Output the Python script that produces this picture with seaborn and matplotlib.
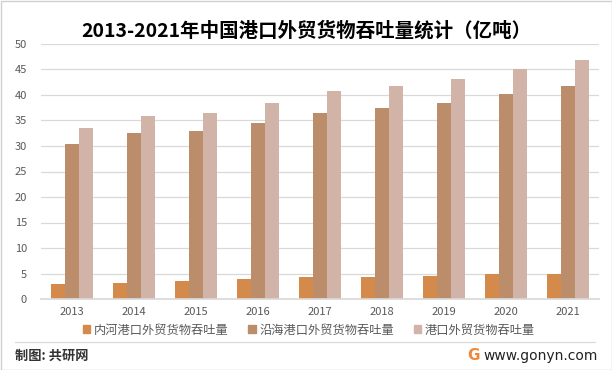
import matplotlib
matplotlib.use("Agg")
import matplotlib.pyplot as plt
import seaborn as sns
import pandas as pd
from matplotlib.patches import Rectangle
from matplotlib.lines import Line2D

years = ["2013", "2014", "2015", "2016", "2017", "2018", "2019", "2020", "2021"]
inland = [2.9, 3.1, 3.6, 4.0, 4.3, 4.3, 4.5, 4.9, 4.9]
coastal = [30.4, 32.6, 33.0, 34.6, 36.5, 37.5, 38.5, 40.1, 41.8]
total = [33.6, 35.9, 36.5, 38.5, 40.8, 41.8, 43.2, 45.0, 46.9]
series_names = ["内河港口外贸货物吞吐量", "沿海港口外贸货物吞吐量", "港口外贸货物吞吐量"]
colors = ["#D48A4B", "#BB8D6B", "#D2B3A8"]
title = "2013-2021年中国港口外贸货物吞吐量统计（亿吨）"

sns.set_theme(style="white")
plt.rcParams['font.family'] = ['Noto Sans CJK SC', 'DejaVu Sans']

rows = []
for name, vals in zip(series_names, [inland, coastal, total]):
    for y, v in zip(years, vals):
        rows.append({"year": y, "series": name, "value": v})
df = pd.DataFrame(rows)

fig = plt.figure(figsize=(6.12, 3.70), dpi=100)
ax = fig.add_axes([41/612, 1-299/370, 558/612, 255/370])

sns.barplot(data=df, x="year", y="value", hue="series", order=years,
            hue_order=series_names, palette=colors, width=0.67, gap=0,
            saturation=1, linewidth=0, ax=ax, legend=False)

ax.set_ylim(0, 50)
ax.set_yticks(range(0, 51, 5))
ax.set_xlim(-0.5, len(years) - 0.5)
ax.yaxis.grid(True, color="#D9D9D9", linewidth=0.9)
ax.set_axisbelow(True)
for s in ["top", "right", "left"]:
    ax.spines[s].set_visible(False)
ax.spines["bottom"].set_color("#D9D9D9")
ax.set_xlabel("")
ax.set_ylabel("")
ax.tick_params(axis="y", length=0, pad=10, labelsize=8, labelcolor="#595959")
ax.tick_params(axis="x", length=0, pad=6, labelsize=8, labelcolor="#595959")

handles = [Rectangle((0, 0), 1, 1, color=c) for c in colors]
fig.legend(handles, series_names, loc="center", bbox_to_anchor=(0.505, 1-330/370),
           ncol=3, frameon=False, fontsize=8.8, handlelength=0.6, handleheight=0.6,
           handletextpad=0.3, columnspacing=1.6, labelcolor="#595959")

fig.text(0.5, 1-31/370, title, ha="center", va="center", fontsize=14,
         fontweight="bold", color="#000000")

# footer
fig.add_artist(Line2D([15/612, 595/612], [1-342/370, 1-342/370], color="#D9D9D9",
                      linewidth=0.9, transform=fig.transFigure))
fig.text(15/612, 1-356/370, "制图: 共研网", ha="left", va="center", fontsize=9.5,
         fontweight="bold", color="#333333")
fig.text(598/612, 1-356/370, "www.gonyn.com", ha="right", va="center", fontsize=10,
         color="#222222", family=["DejaVu Sans"])
fig.text(473/612, 1-356/370, "G", ha="center", va="center", fontsize=11,
         fontweight="bold", color="#F0883A", family=["DejaVu Sans"])

# outer border
fig.add_artist(Rectangle((0.5/612, 0.5/370), 1-1/612, 1-1/370, fill=False,
                         edgecolor="#D0D0D0", linewidth=1, transform=fig.transFigure))

fig.savefig("out.png", dpi=100, facecolor="white")
